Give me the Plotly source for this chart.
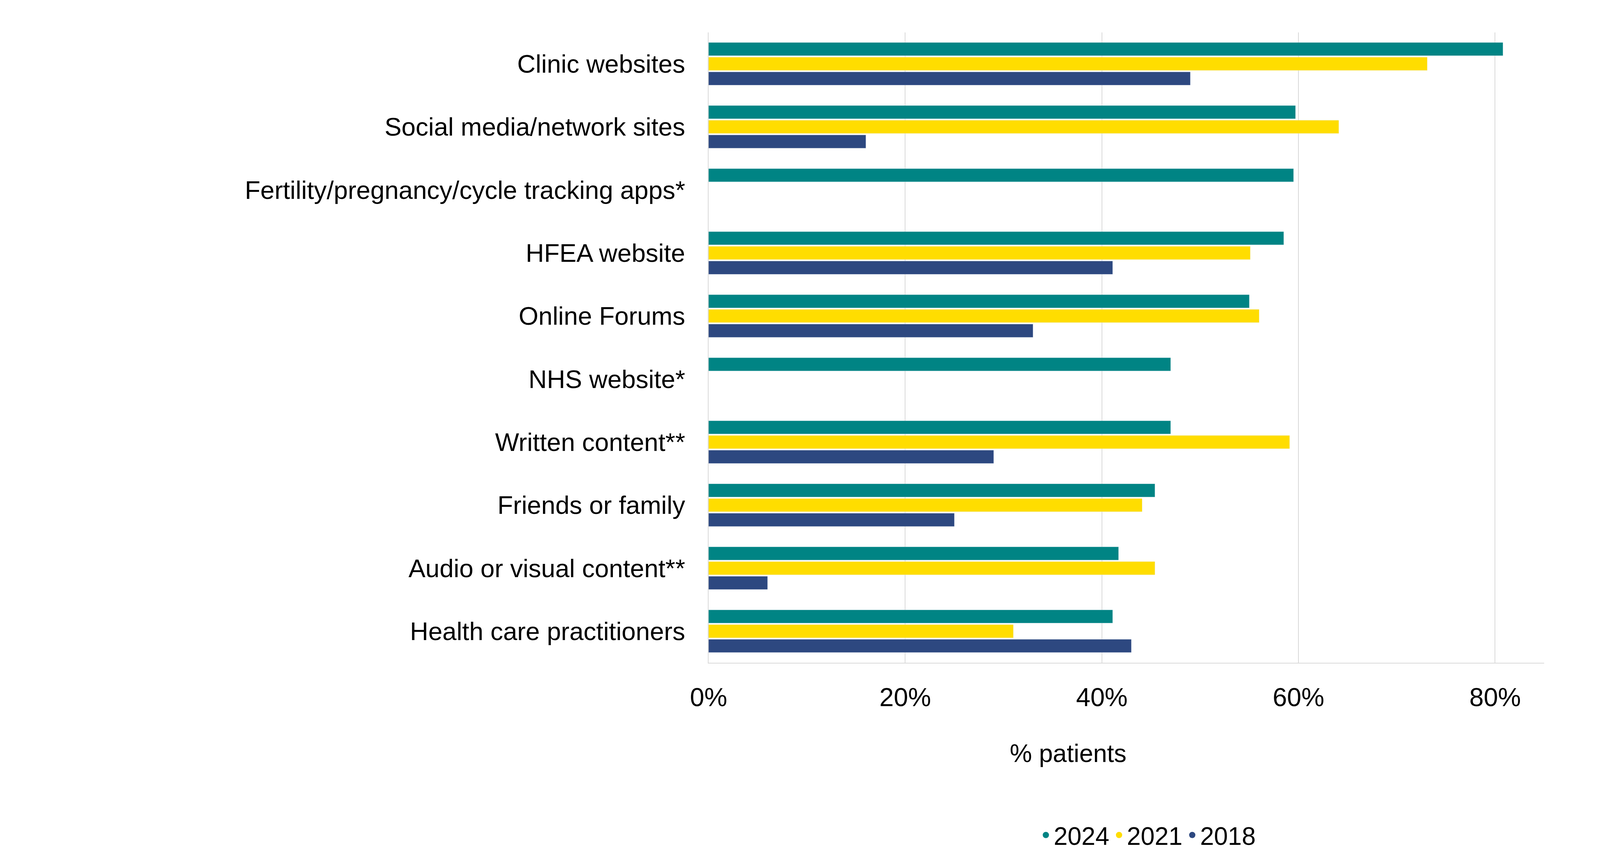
import plotly.graph_objects as go

categories = [
    "Clinic websites",
    "Social media/network sites",
    "Fertility/pregnancy/cycle tracking apps*",
    "HFEA website",
    "Online Forums",
    "NHS website*",
    "Written content**",
    "Friends or family",
    "Audio or visual content**",
    "Health care practitioners",
]
v2024 = [80.8, 59.7, 59.5, 58.5, 55.0, 47.0, 47.0, 45.4, 41.7, 41.1]
v2021 = [73.1, 64.1, None, 55.1, 56.0, None, 59.1, 44.1, 45.4, 31.0]
v2018 = [49.0, 16.0, None, 41.1, 33.0, None, 29.0, 25.0, 6.0, 43.0]
tick_vals = [0, 20, 40, 60, 80]
tick_text = ["0%", "20%", "40%", "60%", "80%"]

series = [("2024", v2024, "#008484"), ("2021", v2021, "#FFDD00"), ("2018", v2018, "#2D4880")]

fig = go.Figure()
for name, vals, col in series:
    fig.add_trace(go.Bar(y=categories, x=vals, orientation="h", name=name,
                         marker_color=col, showlegend=False))
for name, vals, col in series:
    fig.add_trace(go.Scatter(x=[None], y=[None], mode="markers", name=name,
                             marker=dict(symbol="circle", size=58, color=col)))

font = "Liberation Sans, Arial, sans-serif"
fig.add_annotation(text="% patients", xref="paper", yref="paper", x=0.702, y=0.108,
                   showarrow=False, font=dict(size=64))
fig.update_layout(
    autosize=True,
    margin=dict(l=0, r=0, t=0, b=0),
    plot_bgcolor="white", paper_bgcolor="white",
    barmode="group", bargap=0.3, bargroupgap=0.1,
    font=dict(family=font, size=64, color="#000000"),
    legend=dict(orientation="h", x=0.715, xanchor="center", y=0.03, yanchor="middle",
                font=dict(size=64), itemsizing="trace", traceorder="normal"),
    xaxis=dict(domain=[0.436, 0.9666], range=[0, 85],
               tickvals=tick_vals, ticktext=tick_text,
               showgrid=True, gridcolor="#D9D9D9", gridwidth=2,
               showline=True, linecolor="#D9D9D9", linewidth=2,
               tickfont=dict(size=66), ticks="outside", ticklen=30, tickcolor="white",
               zeroline=False),
    yaxis=dict(domain=[0.231, 0.966], autorange="reversed",
               showline=True, linecolor="#D9D9D9", linewidth=2,
               tickfont=dict(size=65), ticks="outside", ticklen=45, tickcolor="white"),
)
fig.write_html("out.html")
